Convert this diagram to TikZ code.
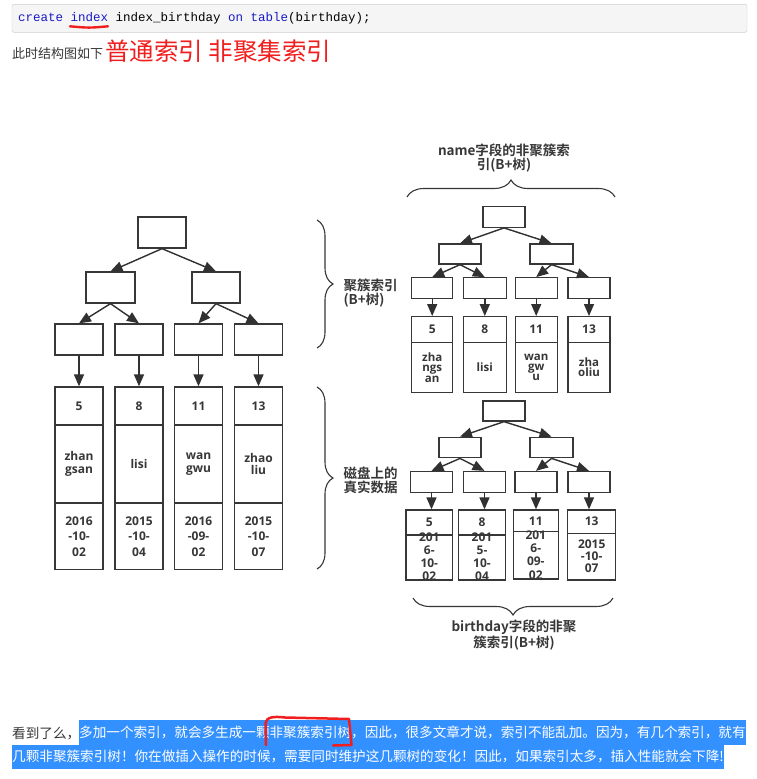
\documentclass[tikz,border=0pt]{standalone}
\usepackage{fontspec}
\setmainfont{Open Sans}
\newfontfamily\cjk[BoldFont={Noto Sans CJK SC Bold}]{Noto Sans CJK SC}
\newfontfamily\mono{Liberation Mono}
\usetikzlibrary{arrows.meta,decorations.pathreplacing}
\definecolor{ink}{RGB}{55,55,55}
\definecolor{kwblue}{RGB}{25,25,200}
\definecolor{markred}{RGB}{240,30,30}
\definecolor{selblue}{RGB}{51,144,255}
\definecolor{codebg}{RGB}{245,245,245}
\definecolor{codeline}{RGB}{205,205,205}
\tikzset{
  tbox/.style={draw=ink,line width=1.3pt,inner sep=0pt,minimum width=48,minimum height=31},
  sbox/.style={tbox,minimum width=42,minimum height=20.5},
  cell/.style={draw=ink,line width=1.3pt,inner sep=0pt,text=ink,align=center,
    font=\bfseries\fontsize{12}{12.7}\selectfont},
  cellnote/.style={cell,draw=none},
  flow/.style={-{Triangle[length=12pt,width=10pt]},line width=1.4pt,draw=ink!90!black,fill=ink!90!black},
  brace/.style={decorate,decoration={brace,amplitude=#1},draw=ink,line width=1.1pt},
  tag/.style={font=\cjk\bfseries\fontsize{13.5}{14}\selectfont,text=ink,align=center},
  para/.style={anchor=west,inner sep=0pt,font=\cjk\fontsize{13.6}{14}\selectfont},
  sel/.style={para,fill=selblue,text=white,inner ysep=0pt,minimum height=#1},
}

\begin{document}
\begin{tikzpicture}[x=1pt,y=-1pt]
  \fill[white] (0,0) rectangle (757,779);
  \useasboundingbox (0,0) rectangle (757,779);

  % sql line
  \node[draw=codeline,fill=codebg,rounded corners=2pt,minimum width=735,minimum height=28,inner sep=0pt] (codebox) at (379.5,18.3) {};
  \node[anchor=west,inner sep=0pt,font=\mono\fontsize{12.5}{14}\selectfont] (sql) at (18,18.3)
    {\textcolor{kwblue}{create} \textcolor{kwblue}{index} index\_birthday \textcolor{kwblue}{on} \textcolor{kwblue}{table}(birthday);};
  \draw[markred,line width=2.4pt,line cap=round] (70,26.3) .. controls (89,28) .. (108,26.3);
  \node[anchor=west,inner sep=0pt,font=\cjk\fontsize{13}{14}\selectfont,text=ink] (intro) at (12,53.3) {此时结构图如下};
  \node[anchor=west,inner sep=0pt,font=\cjk\fontsize{24.5}{26}\selectfont,text=markred] (title) at (105,51.7) {普通索引 非聚集索引};

  % clustered index tree
  \node[tbox] (lroot) at (162,232.5) {};
  \node[tbox,minimum width=49] (la) at (110.5,287.5) {};
  \node[tbox] (lb) at (216,287.5) {};
  \draw[flow] (lroot.south) -- (la.north);
  \draw[flow] (lroot.south) -- (lb.north);
  \foreach \x/\ky/\nm/\dt [count=\i] in {79/5/{zhan\\gsan}/{2016\\-10-\\02},139/8/lisi/{2015\\-10-\\04},
      198.5/11/{wan\\gwu}/{2016\\-09-\\02},258.5/13/{zhao\\liu}/{2015\\-10-\\07}} {
    \node[tbox] (ll\i) at (\x,339.5) {};
    \node[cell,minimum width=48,minimum height=38] (lk\i) at (\x,406) {\ky};
    \node[cell,minimum width=48,minimum height=78] (ln\i) at (\x,464) {\nm};
    \node[cell,minimum width=48,minimum height=66,font=\bfseries\fontsize{12}{15.3}\selectfont] (ld\i) at (\x,536.5) {\dt};
    \draw[flow] (ll\i) -- (lk\i);
  }
  \draw[flow] (la.south) -- (ll1.north);
  \draw[flow] (la.south) -- (ll2.north);
  \draw[flow] (lb.south) -- (ll3.north);
  \draw[flow] (lb.south) -- (ll4.north);

  % braces and their tags
  \draw[brace=16] (317,220) -- (317,348);
  \node[tag,anchor=west,align=left] (ctag) at (340,293) {聚簇索引\\(B+树)};
  \draw[brace=16] (317,387) -- (317,569);
  \node[tag,anchor=west,align=left] (dtag) at (340,480.5) {磁盘上的\\真实数据};
  \draw[brace=17] (407,197) -- (615,197);
  \node[tag] (ntag) at (504,158.5) {name字段的非聚簇索\\引(B+树)};
  \draw[brace=17] (613,598) -- (413,598);
  \node[tag] (btag) at (514,635) {birthday字段的非聚\\簇索引(B+树)};

  % name index tree
  \node[sbox] (troot) at (504,217) {};
  \node[sbox,minimum height=20] (ta) at (460,254) {};
  \node[sbox,minimum height=20,minimum width=43] (tb) at (551.5,254) {};
  \draw[flow] (troot.south) -- (ta.north);
  \draw[flow] (troot.south) -- (tb.north);
  \foreach \x/\w/\ky/\nm [count=\i] in {432.2/41/5/{zha\\ngs\\an},484.8/43/8/lisi,536.2/42/11/{wan\\gw\\u},589/42/13/{zha\\oliu}} {
    \node[sbox,minimum width=\w] (tl\i) at (\x,288) {};
    \node[cell,minimum width=\w,minimum height=25.6] (tk\i) at (\x,329.5) {\ky};
    \node[cell,minimum width=\w,minimum height=50.5,font=\bfseries\fontsize{11.5}{10.3}\selectfont] (tn\i) at (\x,367.5) {\nm};
    \draw[flow] (tl\i) -- (tk\i);
  }
  \draw[flow] (ta.south) -- (tl1.north);
  \draw[flow] (ta.south) -- (tl2.north);
  \draw[flow] (tb.south) -- (tl3.north);
  \draw[flow] (tb.south) -- (tl4.north);

  % birthday index tree
  \node[sbox,minimum height=20] (broot) at (504,411) {};
  \node[sbox] (ba) at (460,447.5) {};
  \node[sbox,minimum width=43] (bb) at (551.5,447.5) {};
  \draw[flow] (broot.south) -- (ba.north);
  \draw[flow] (broot.south) -- (bb.north);
  \foreach \x/\c/\w/\kc/\kh/\dc/\dh/\tc/\bs/\ky/\dt [count=\i] in {
      431.5/429.3/46.7/522.5/25/557.5/45/556.7/13.3/5/{201\\6-\\10-\\02},
      484.5/482/47.4/522.5/25/557.5/45/556.7/13.3/8/{201\\5-\\10-\\04},
      536/535.8/45/520.85/21.7/555.35/47.3/555/13.3/11/{201\\6-\\09-\\02},
      589/591.7/48/521.65/23.3/556.65/46.7/556.2/12.2/13/{2015\\-10-\\07}} {
    \node[sbox,minimum height=21] (bl\i) at (\x,482) {};
    \node[cell,minimum width=\w,minimum height=\kh] (bk\i) at (\c,\kc) {\ky};
    \node[cell,minimum width=\w,minimum height=\dh] (bd\i) at (\c,\dc) {};
    \node[cellnote,font=\bfseries\fontsize{12}{\bs}\selectfont] (bt\i) at (\c,\tc) {\dt};
    \draw[flow] (bl\i.south) -- (bl\i.south |- bk\i.north);
  }
  \draw[flow] (ba.south) -- (bl1.north);
  \draw[flow] (ba.south) -- (bl2.north);
  \draw[flow] (bb.south) -- (bl3.north);
  \draw[flow] (bb.south) -- (bl4.north);

  % closing remark
  \node[para,text=ink] (p1) at (12,733.5) {看到了么，};
  \node[sel=25] (p2) at (79,732.8) {多加一个索引，就会多生成一颗非聚簇索引树，因此，很多文章才说，索引不能乱加。因为，有几个索引，就有};
  \node[sel=23.7] (p3) at (12,756.9) {几颗非聚簇索引树！你在做插入操作的时候，需要同时维护这几颗树的变化！因此，如果索引太多，插入性能就会下降!};
  \draw[markred,line width=2.5pt,line cap=round,line join=round] (266,745) -- (265.5,724)
    .. controls (266,716) and (275,716.5) .. (285,717.5) -- (349,719) -- (351.5,745) -- (333,745.5);
\end{tikzpicture}
\end{document}
